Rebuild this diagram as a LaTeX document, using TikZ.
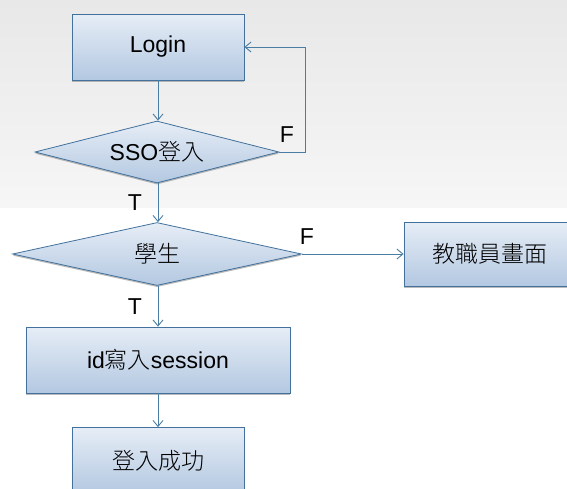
\documentclass[tikz,border=0pt]{standalone}
\usepackage{fontspec}
\setmainfont{Liberation Sans}
\newfontfamily\cjk{Noto Sans CJK TC Light}
\usetikzlibrary{shapes.geometric,arrows.meta,shadows}
\definecolor{bordc}{HTML}{41719C}
\definecolor{linec}{HTML}{4A7DA3}
\definecolor{filltop}{HTML}{E6EDF6}
\definecolor{fillbot}{HTML}{B3C8E1}
\definecolor{bgtop}{HTML}{E8E8E8}
\definecolor{bgbot}{HTML}{F6F6F6}
\tikzset{
  boxnode/.style={draw=bordc, line width=0.8pt, top color=filltop, bottom color=fillbot,
    minimum height=66pt, inner sep=0pt, font=\fontsize{23}{27}\selectfont,
    drop shadow={shadow xshift=0pt,shadow yshift=-1.6pt,fill=black!45,opacity=0.6}},
  decnode/.style={diamond, shape aspect=4, draw=bordc, line width=0.8pt, top color=filltop, bottom color=fillbot,
    inner sep=0pt, font=\fontsize{23}{27}\selectfont,
    drop shadow={shadow xshift=0pt,shadow yshift=-1.6pt,fill=black!45,opacity=0.6}},
  conn/.style={draw=linec, line width=0.9pt, -{Straight Barb[length=6pt,width=10pt,line width=0.9pt]}},
  lbl/.style={inner sep=0pt, font=\fontsize{23}{27}\selectfont},
}
\begin{document}
\begin{tikzpicture}[x=1pt,y=-1pt]
\clip (0,0) rectangle (567,488);
\shade[top color=bgtop, bottom color=bgbot] (0,0) rectangle (567,207.5);
\node[boxnode, minimum width=172pt] (login) at (158,47) {Login};
\node[decnode, minimum width=244pt, minimum height=62pt] (sso) at (157,152) {SSO{\cjk 登入}};
\node[decnode, minimum width=289pt, minimum height=63pt] (stu) at (157,254) {\cjk 學生};
\node[boxnode, minimum width=172pt, minimum height=64pt] (staff) at (490,254) {\cjk 教職員畫面};
\node[boxnode, minimum width=264pt] (idw) at (158,360) {id{\cjk 寫入}session};
\node[boxnode, minimum width=172pt] (ok) at (158,460.5) {\cjk 登入成功};
\coordinate (loopc) at (305,152);
\draw[conn] (login.south -| 158,0) -- (sso.north -| 158,0);
\draw[conn] (sso.east) -- (loopc) |- (login.east);
\draw[conn] (sso.south -| 158,0) -- (stu.north -| 158,0);
\draw[conn] (stu.east) -- (staff.west);
\draw[conn] (stu.south -| 158,0) -- (idw.north -| 158,0);
\draw[conn] (idw.south) -- (ok.north);
\node[lbl] (f1) at (287,135) {F};
\node[lbl] (t1) at (135,203) {T};
\node[lbl] (f2) at (307,237) {F};
\node[lbl] (t2) at (135,307) {T};
\end{tikzpicture}
\end{document}
